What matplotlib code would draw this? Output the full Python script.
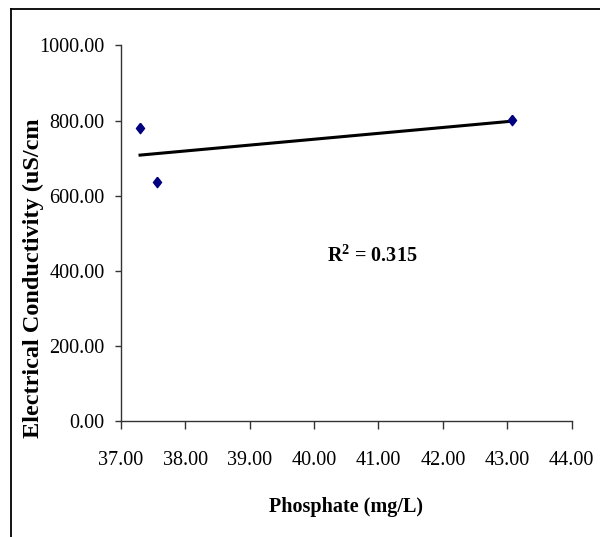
import numpy as np
import matplotlib
matplotlib.use("Agg")
import matplotlib.pyplot as plt
from matplotlib.lines import Line2D

# data
phosphate = [37.30, 37.57, 43.08]
conductivity = [780.0, 637.0, 802.0]
r2_text = "R$^{2}$ = 0.315"

x_ticks = [37, 38, 39, 40, 41, 42, 43, 44]
y_ticks = [0, 200, 400, 600, 800, 1000]

plt.rcParams['font.family'] = ['Liberation Serif', 'DejaVu Serif']
plt.rcParams['mathtext.fontset'] = 'custom'
plt.rcParams['mathtext.rm'] = 'Liberation Serif:bold'
plt.rcParams['mathtext.bf'] = 'Liberation Serif:bold'

fig = plt.figure(figsize=(6, 5.37), dpi=100)
ax = fig.add_axes([0.2012, 0.2151, 0.7516, 0.7005])

# slightly tall diamond like the original marker
diamond = [(0, 1), (0.78, 0), (0, -1), (-0.78, 0), (0, 1)]
ax.plot(phosphate, conductivity, linestyle='none', marker=diamond, markersize=7.5,
        color='#000080', zorder=3)

# linear trendline over data range
m, b = np.polyfit(phosphate, conductivity, 1)
xs = np.array([min(phosphate), max(phosphate)])
ax.plot(xs, m * xs + b, color='black', linewidth=2.2, zorder=2)

ax.set_xlim(37, 44)
ax.set_ylim(0, 1000)
ax.set_xticks(x_ticks)
ax.set_yticks(y_ticks)
ax.set_xticklabels([f"{v:.2f}" for v in x_ticks])
ax.set_yticklabels([f"{v:.2f}" for v in y_ticks])

for s in ['top', 'right']:
    ax.spines[s].set_visible(False)
for s in ['left', 'bottom']:
    ax.spines[s].set_linewidth(1.0)
    ax.spines[s].set_color('#333333')

ax.tick_params(axis='y', direction='out', length=4.5, width=1.0,
               color='#333333', labelsize=14.5, pad=7)
ax.tick_params(axis='x', direction='out', length=6, width=1.0,
               color='#333333', labelsize=14.5, pad=15)

ax.text(40.90, 440, r2_text, fontsize=14.5, fontweight='bold',
        ha='center', va='center')

fig.text(0.055, 1 - 278 / 537, "Electrical Conductivity (uS/cm", rotation=90,
         fontsize=17.5, fontweight='bold', ha='center', va='center')
fig.text(346 / 600, 1 - 507 / 537, "Phosphate (mg/L)",
         fontsize=14.5, fontweight='bold', ha='center', va='center')

# outer frame (left and top edges visible)
fig.add_artist(Line2D([11 / 600, 11 / 600], [0, 1 - 8.5 / 537],
                      transform=fig.transFigure, color='black', linewidth=1.3))
fig.add_artist(Line2D([11 / 600, 1], [1 - 8.5 / 537, 1 - 8.5 / 537],
                      transform=fig.transFigure, color='black', linewidth=1.3))

fig.savefig("out.png", dpi=100)
